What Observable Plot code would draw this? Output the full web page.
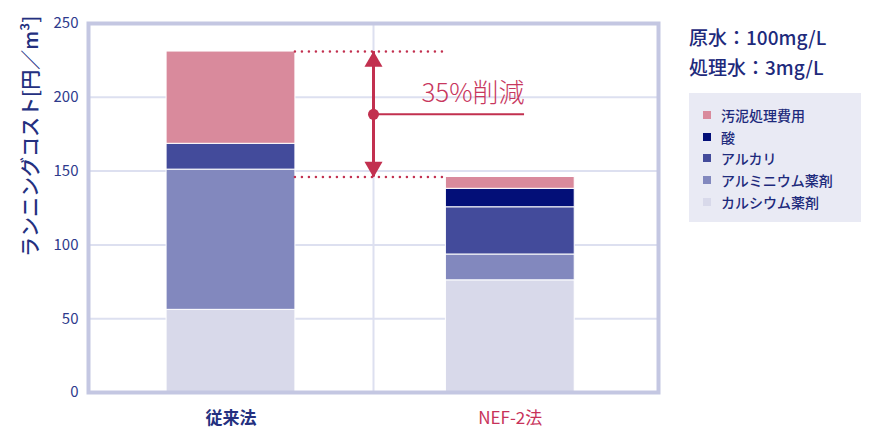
<!DOCTYPE html>
<html><head><meta charset="utf-8">
<script src="https://cdn.jsdelivr.net/npm/d3@7"></script>
<script src="https://cdn.jsdelivr.net/npm/@observablehq/plot@0.6"></script>
<style>
body{margin:0;background:#fff;font-family:"Noto Sans CJK JP","Noto Sans",sans-serif;}
#wrap{position:relative;width:890px;height:445px;display:flex;}
#chart{width:670px;height:445px;}
#side{position:relative;width:220px;height:445px;}
.cond{position:absolute;left:19px;top:22px;font-size:19px;line-height:30px;color:#1e2a7c;font-weight:500;white-space:nowrap}
.legend{position:absolute;left:19px;top:93px;width:172px;height:129px;background:#e9eaf4;box-sizing:border-box;padding-top:11px;}
.legend .row{height:21.7px;display:flex;align-items:center;font-size:14px;color:#1e2a7c;padding-left:14px;white-space:nowrap;font-weight:500}
.legend .sw{width:8px;height:8px;margin-right:10px;flex:none}
</style></head><body>
<div id="wrap"><div id="chart"></div><div id="side"></div></div>
<script>
// ---- data ----
const methods = ["従来法", "NEF-2法"];
const components = ["汚泥処理費用", "酸", "アルカリ", "アルミニウム薬剤", "カルシウム薬剤"];
const sludge   = [62.5, 8];
const acid     = [0, 12.5];
const alkali   = [17.5, 32];
const aluminum = [95, 17.5];
const calcium  = [56, 76];
const yTicks = [0, 50, 100, 150, 200, 250];
const gridValues = [50, 100, 150, 200];
const conditions = ["原水：100mg/L", "処理水：3mg/L"];
const reductionLabel = "35%削減";
const yLabel = "ランニングコスト[円／m³]";
const colors = ["#d98a9c", "#030f78", "#434b9b", "#8288be", "#d8d9ea"];

// ---- derived ----
const series = {"汚泥処理費用": sludge, "酸": acid, "アルカリ": alkali, "アルミニウム薬剤": aluminum, "カルシウム薬剤": calcium};
const bottomToTop = components.slice().reverse();
const rows = [];
const totals = methods.map((m, i) => {
  let base = 0;
  for (const c of bottomToTop) {
    const v = series[c][i];
    if (v > 0) rows.push({method: m, i, comp: c, y1: base, y2: base + v});
    base += v;
  }
  return base;
});
const hw = 0.226;
const center = i => 0.5 + i * 0.98;
const mid = (totals[0] + totals[1]) / 2;
const labelEnd = center(1) + 0.05;

const navy = "#24307f";
const red = "#c2304f";
const cats = methods.map((m, i) => ({m, i}));

const chart = Plot.plot({
  width: 670, height: 445,
  marginLeft: 88, marginRight: 12, marginTop: 23, marginBottom: 53,
  x: {domain: [0, 2], axis: null},
  y: {domain: [0, 250], axis: null},
  color: {domain: components, range: colors},
  style: {fontFamily: '"Noto Sans CJK JP","Noto Sans",sans-serif', background: "white", overflow: "visible"},
  marks: [
    Plot.ruleY(gridValues, {stroke: "#dde0f0", strokeWidth: 2}),
    Plot.ruleX([1], {stroke: "#dde0f0", strokeWidth: 2}),
    Plot.rect(rows, {x1: d => center(d.i) - hw, x2: d => center(d.i) + hw, y1: "y1", y2: "y2", fill: "comp", stroke: "#fff", strokeWidth: 1}),
    Plot.frame({stroke: "#c4c7e2", strokeWidth: 4}),
    Plot.axisY({ticks: yTicks, tickSize: 0, tickPadding: 10, fontSize: 15, color: "#2e3a8c", label: null}),
    Plot.text([yLabel], {frameAnchor: "top-left", rotate: -90, textAnchor: "end", dx: -65, dy: -8, fontSize: 20, fill: navy, fontWeight: 500}),
    Plot.text(cats.filter(d => d.i === 0), {x: d => center(d.i), y: () => 0, text: "m", dy: 26, fontSize: 17, fontWeight: "bold", fill: navy}),
    Plot.text(cats.filter(d => d.i === 1), {x: d => center(d.i), y: () => 0, text: "m", dy: 26, fontSize: 17, fill: "#c8325a"}),
    // annotation
    Plot.ruleY(totals, {x1: () => center(0) + hw, x2: () => center(1) - hw, y: d => d, stroke: red, strokeWidth: 2.5, strokeDasharray: "0 7", strokeLinecap: "round"}),
    Plot.ruleX([1], {y1: () => totals[0], y2: () => totals[1], stroke: red, strokeWidth: 3}),
    Plot.dot([totals[0]], {x: () => 1, y: d => d, symbol: "triangle", r: 6.7, fill: red, stroke: "none", dy: 10}),
    Plot.dot([totals[1]], {x: () => 1, y: d => d, symbol: "triangle", r: 6.7, fill: red, stroke: "none", rotate: 180, dy: -10}),
    Plot.ruleY([mid], {x1: () => 1, x2: () => labelEnd, stroke: red, strokeWidth: 2}),
    Plot.dot([mid], {x: () => 1, y: d => d, r: 5.5, fill: red, stroke: "none"}),
    Plot.text([reductionLabel], {x: () => labelEnd, y: () => mid, textAnchor: "end", dy: -21, fontSize: 26, fill: "#c8375e", fontWeight: 300})
  ]
});
document.getElementById("chart").appendChild(chart);

// side panel: conditions + legend
const side = document.getElementById("side");
const cond = document.createElement("div");
cond.className = "cond";
cond.innerHTML = conditions.map(t => `<div>${t}</div>`).join("");
side.appendChild(cond);
const leg = document.createElement("div");
leg.className = "legend";
components.forEach((c, k) => {
  const r = document.createElement("div");
  r.className = "row";
  r.innerHTML = `<span class="sw" style="background:${colors[k]}"></span><span>${c}</span>`;
  leg.appendChild(r);
});
side.appendChild(leg);
</script>
</body></html>
